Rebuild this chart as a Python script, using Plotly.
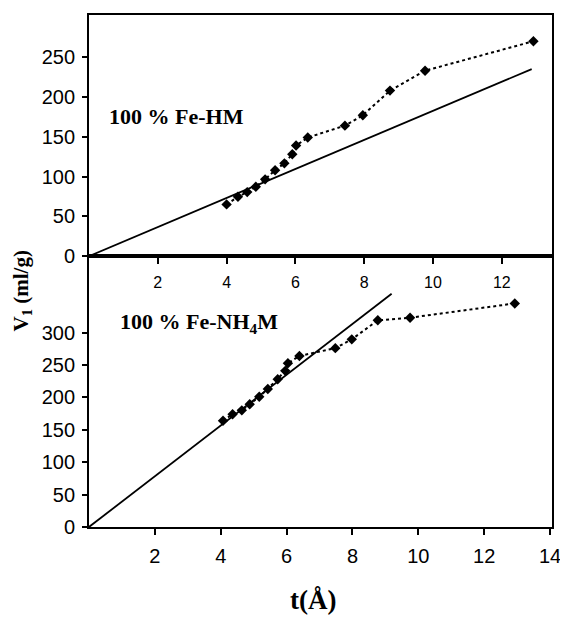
import plotly.graph_objects as go

# shared t values (Å)
t_vals = [4.0, 4.33, 4.6, 4.85, 5.12, 5.41, 5.68, 5.91, 6.02, 6.36, 7.44, 7.96, 8.75, 9.77, 12.92]
# 100 % Fe-HM
v_hm = [65, 74.6, 80.5, 87.2, 96.5, 108, 116.6, 128, 139, 149, 164, 177, 208, 233, 270]
# 100 % Fe-NH4M
t_nh4 = [4.07, 4.36, 4.64, 4.88, 5.17, 5.43, 5.73, 5.96, 6.04, 6.39, 7.48, 7.98, 8.77, 9.75, 12.93]
v_nh4 = [164, 174, 180, 189.5, 201, 213, 228, 241, 252.6, 264, 276, 289.6, 319, 323, 345]
# reference straight lines
t_fit_hm = [0, 12.87]
v_fit_hm = [0, 235]
t_fit_nh4 = [0, 9.19]
v_fit_nh4 = [0, 360]

top_ticks = [2, 4, 6, 8, 10, 12]
bottom_ticks = [2, 4, 6, 8, 10, 12, 14]
top_yticks = [0, 50, 100, 150, 200, 250]
bottom_yticks = [0, 50, 100, 150, 200, 250, 300]

serif = "Liberation Serif"
sans = "Liberation Sans"

fig = go.Figure()

# top panel
fig.add_trace(go.Scatter(x=t_fit_hm, y=v_fit_hm, mode="lines",
                         line=dict(color="black", width=1.8),
                         xaxis="x2", yaxis="y2", showlegend=False))
fig.add_trace(go.Scatter(x=t_vals, y=v_hm, mode="lines+markers",
                         line=dict(color="black", width=2, dash="dot"),
                         marker=dict(symbol="diamond", size=8, color="black"),
                         xaxis="x2", yaxis="y2", showlegend=False))
# bottom panel
fig.add_trace(go.Scatter(x=t_fit_nh4, y=v_fit_nh4, mode="lines",
                         line=dict(color="black", width=1.8),
                         xaxis="x", yaxis="y", showlegend=False))
fig.add_trace(go.Scatter(x=t_nh4, y=v_nh4, mode="lines+markers",
                         line=dict(color="black", width=2, dash="dot"),
                         marker=dict(symbol="diamond", size=8, color="black"),
                         xaxis="x", yaxis="y", showlegend=False))

split = 0.529
axis_common = dict(showgrid=False, zeroline=False, showline=True, linecolor="black",
                   linewidth=1.8, ticks="outside", tickcolor="black", tickwidth=1.5,
                   mirror=True, automargin=False)

fig.update_layout(
    width=560, height=612,
    margin=dict(l=81, r=16, t=7, b=93),
    paper_bgcolor="white", plot_bgcolor="white",
    xaxis=dict(**axis_common, domain=[0, 1], range=[0, 14.06], anchor="y",
               tickvals=bottom_ticks, ticklen=6, ticklabelstandoff=4,
               tickfont=dict(family=sans, size=20, color="black")),
    yaxis=dict(**axis_common, domain=[0, split], range=[0, 418], anchor="x",
               tickvals=bottom_yticks, ticklen=5, ticklabelstandoff=3,
               tickfont=dict(family=sans, size=20, color="black")),
    xaxis2=dict(**axis_common, domain=[0, 1], range=[0, 13.46], anchor="y2",
                tickvals=top_ticks, ticklen=6, ticklabelstandoff=5,
                tickfont=dict(family=sans, size=16, color="black")),
    yaxis2=dict(**axis_common, domain=[split, 1], range=[0, 303], anchor="x2",
                tickvals=top_yticks, ticklen=5, ticklabelstandoff=3,
                tickfont=dict(family=sans, size=20, color="black")),
    annotations=[
        dict(text="<b>100 % Fe-HM</b>", x=0.52, y=175, xref="x2", yref="y2",
             xanchor="left", yanchor="middle", showarrow=False,
             font=dict(family=serif, size=22, color="black")),
        dict(text="<b>100 % Fe-NH<sub>4</sub>M</b>", x=0.88, y=315, xref="x", yref="y",
             xanchor="left", yanchor="middle", showarrow=False,
             font=dict(family=serif, size=22, color="black")),
        dict(text="<b>V<sub>1</sub> (ml/g)</b>", x=-0.1447, y=0.46, xref="paper", yref="paper",
             xanchor="center", yanchor="middle", showarrow=False, textangle=-90,
             font=dict(family=serif, size=21, color="black")),
        dict(text="<b>t(Å)</b>", x=0.484, y=-0.143, xref="paper", yref="paper",
             xanchor="center", yanchor="middle", showarrow=False,
             font=dict(family=serif, size=27, color="black")),
    ],
)

fig.write_html("out.html")
